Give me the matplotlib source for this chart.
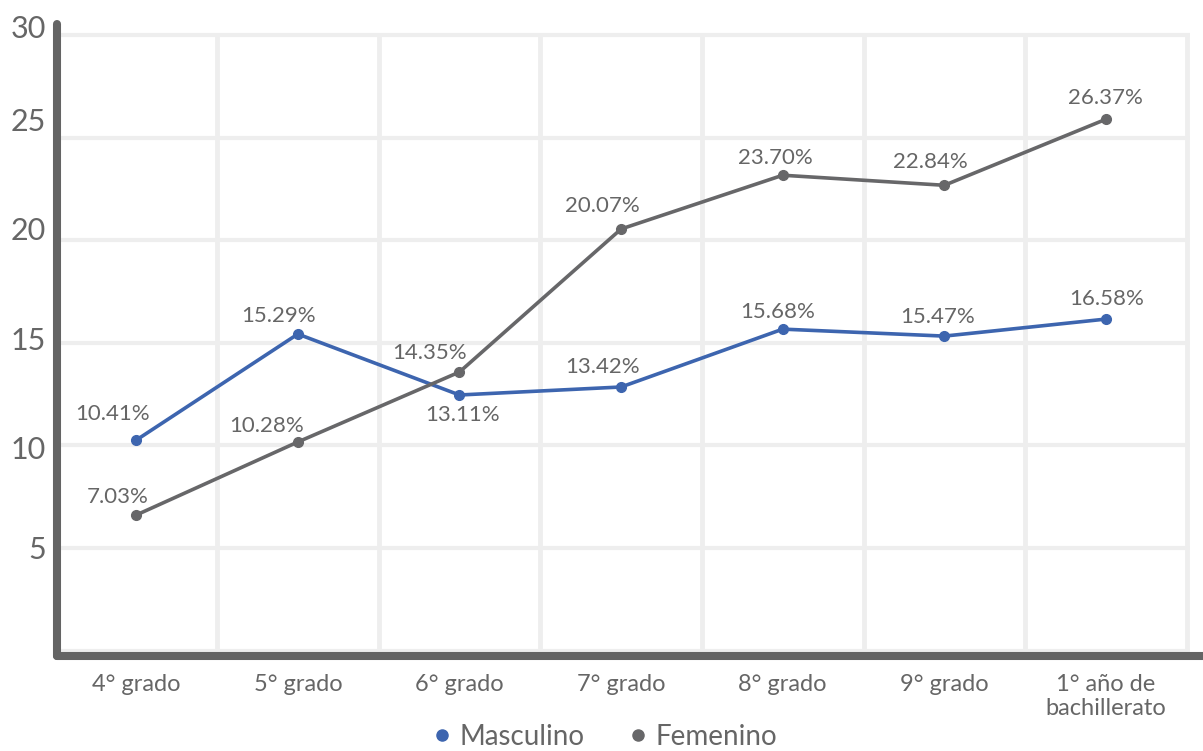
import matplotlib
matplotlib.use("Agg")
import matplotlib.pyplot as plt
from matplotlib.lines import Line2D
from matplotlib.transforms import ScaledTranslation

categories = ["4° grado", "5° grado", "6° grado", "7° grado", "8° grado", "9° grado",
              "1° año de\nbachillerato"]
masculino = [10.26, 15.43, 12.46, 12.85, 15.67, 15.33, 16.16]
femenino = [6.61, 10.17, 13.58, 20.55, 23.17, 22.68, 25.90]
masculino_labels = ["10.41%", "15.29%", "13.11%", "13.42%", "15.68%", "15.47%", "16.58%"]
femenino_labels = ["7.03%", "10.28%", "14.35%", "20.07%", "23.70%", "22.84%", "26.37%"]
yticks = [5, 10, 15, 20, 25, 30]

# label offsets in pixels (style)
m_off = [(-24, 26), (-19, 18), (3, -20), (-19, 20), (-5, 17), (-7, 19), (1, 20)]
f_off = [(-19, 18), (-31, 16), (-30, 19), (-19, 23), (-7, 17), (-14, 23), (-1, 21)]
ytick_dy = [1, -2, 4, 12, 18, 9]

BLUE = "#3d65af"
GRAY = "#676769"
SPINE = "#646464"
GRID = "#eeeeee"
TXT = "#666666"
FONT = ["Lato", "DejaVu Sans"]

plt.rcParams["font.family"] = FONT

W, H = 1203, 751
fig = plt.figure(figsize=(W / 100, H / 100), dpi=100)
ax = fig.add_axes([57 / W, 1 - 656 / H, (W - 57) / W, (656 - 24) / H])

n = len(categories)
x = list(range(n))
ax.set_xlim(-0.49, 6.6)
ax.set_ylim(-0.26, 30.54)

# grid
for v in [0] + yticks:
    ax.plot([-0.5, n - 0.5 + 0.02], [v, v], color=GRID, lw=3, zorder=1, solid_capstyle="butt")
for i in range(n):
    ax.plot([i + 0.5, i + 0.5], [0, 30.07], color=GRID, lw=3.5, zorder=1, solid_capstyle="butt")

ax.plot(x, masculino, color=BLUE, lw=2.6, marker="o", ms=7, zorder=3)
ax.plot(x, femenino, color=GRAY, lw=2.6, marker="o", ms=7, zorder=3)

for i in range(n):
    ax.annotate(masculino_labels[i], (x[i], masculino[i]), xytext=m_off[i],
                textcoords="offset pixels", ha="center", va="center",
                fontsize=16, color=TXT, zorder=4)
    ax.annotate(femenino_labels[i], (x[i], femenino[i]), xytext=f_off[i],
                textcoords="offset pixels", ha="center", va="center",
                fontsize=16, color=TXT, zorder=4)

for s in ["top", "right"]:
    ax.spines[s].set_visible(False)
for s in ["left", "bottom"]:
    ax.spines[s].set_color(SPINE)
    ax.spines[s].set_linewidth(5.8)
    ax.spines[s].set_capstyle("round")

ax.set_xticks(x)
ax.set_xticklabels(categories, fontsize=17, color=TXT, linespacing=1.2)
ax.set_yticks(yticks)
ax.set_yticklabels([str(v) for v in yticks], fontsize=22, color=TXT)
ax.tick_params(axis="both", length=0)
ax.tick_params(axis="x", pad=13)
ax.tick_params(axis="y", pad=8)
for lab, dy in zip(ax.get_yticklabels(), ytick_dy):
    lab.set_transform(lab.get_transform() + ScaledTranslation(0, dy / 100, fig.dpi_scale_trans))

handles = [Line2D([], [], color=BLUE, marker="o", ls="none", ms=8),
           Line2D([], [], color=GRAY, marker="o", ls="none", ms=8)]
leg = fig.legend(handles, ["Masculino", "Femenino"], loc="center", bbox_to_anchor=(0.501, 0.019),
                 ncol=2, frameon=False, handletextpad=0.15, columnspacing=1.4,
                 prop={"family": FONT, "size": 20}, handlelength=1.0)
for t in leg.get_texts():
    t.set_color(TXT)

fig.savefig("out.png", dpi=100)
